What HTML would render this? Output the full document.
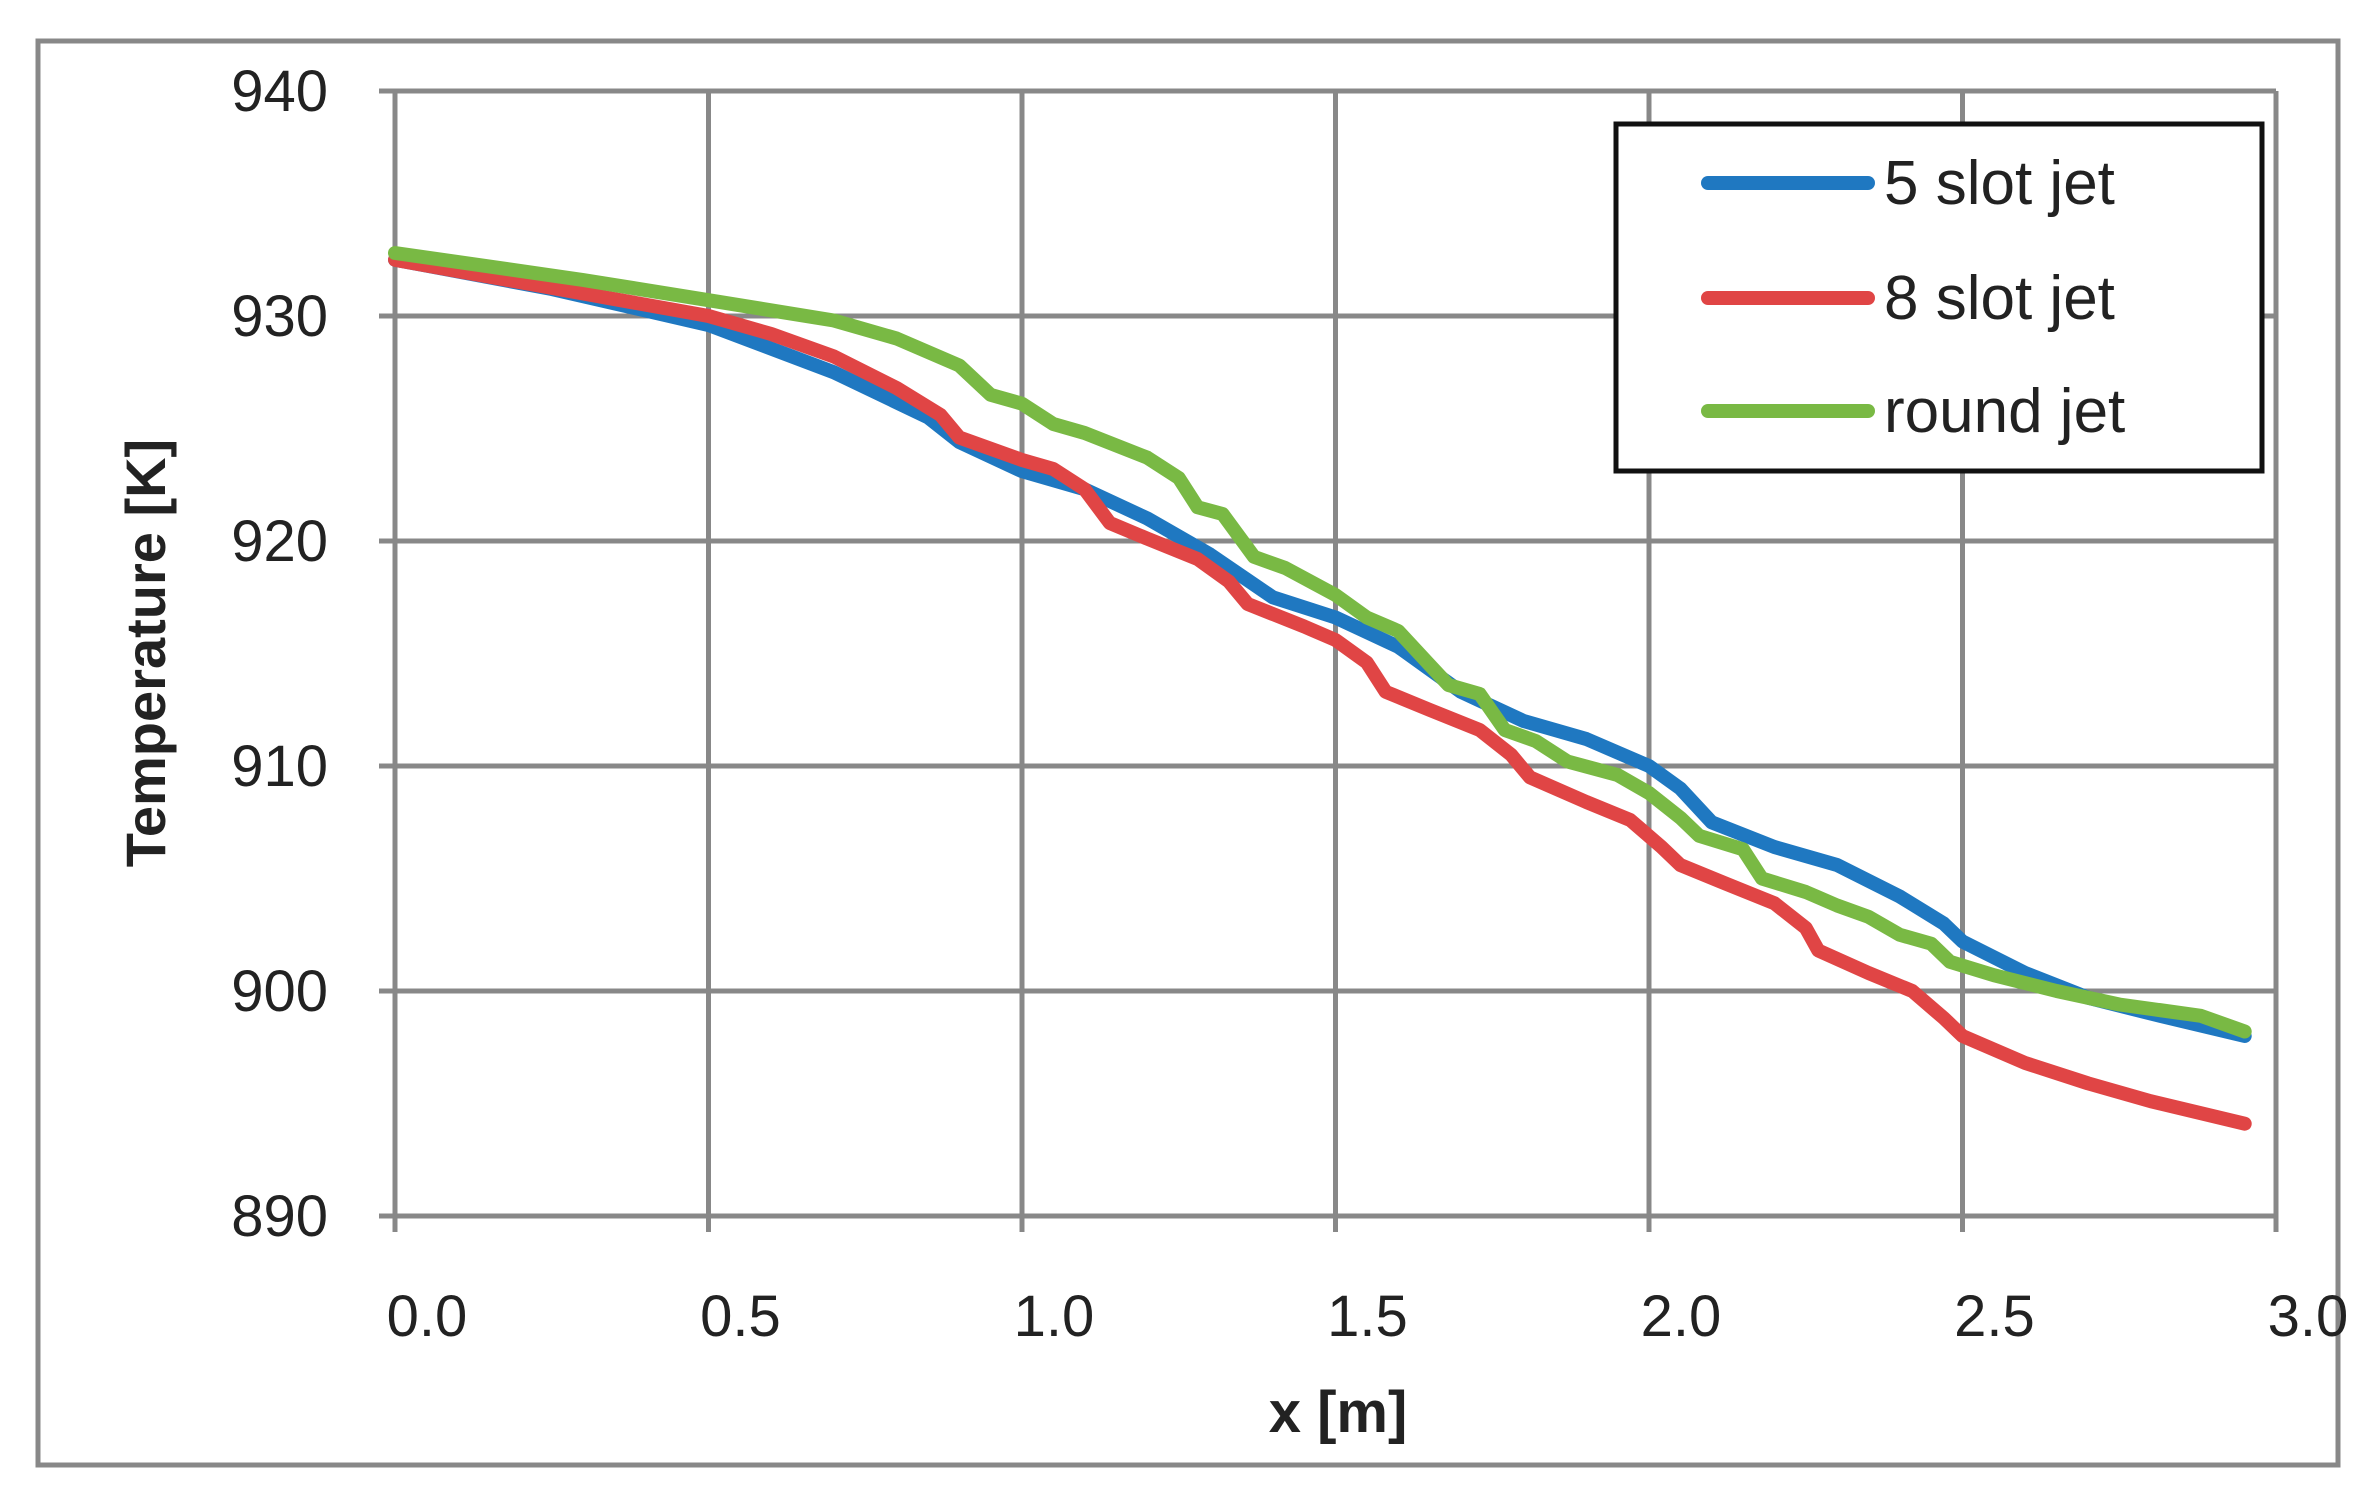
<!DOCTYPE html>
<html><head><meta charset="utf-8"><style>
html,body{margin:0;padding:0;background:#fff;width:2368px;height:1501px;overflow:hidden}
svg{display:block}
text{font-family:"Liberation Sans",sans-serif;fill:#222}
</style></head><body>
<svg id="s" width="2368" height="1501" xmlns="http://www.w3.org/2000/svg">
<rect x="38" y="41" width="2300" height="1424" fill="#fff" stroke="#888" stroke-width="5"/>
<g id="grid" stroke="#888" stroke-width="5"></g>
<g id="lab" font-size="58"></g>
<text x="1338" y="1432" font-size="58" font-weight="bold" text-anchor="middle">x [m]</text>
<text transform="translate(165,653) rotate(-90)" font-size="56" font-weight="bold" text-anchor="middle">Temperature [K]</text>
<g id="ser" fill="none" stroke-width="14" stroke-linejoin="round" stroke-linecap="round"></g>
<rect x="1616" y="124" width="646" height="347" fill="#fff" stroke="#111" stroke-width="5"/>
<line x1="1708" y1="183" x2="1868" y2="183" stroke="#1f78c1" stroke-width="14" stroke-linecap="round"/>
<line x1="1708" y1="298" x2="1868" y2="298" stroke="#e04545" stroke-width="14" stroke-linecap="round"/>
<line x1="1708" y1="411" x2="1868" y2="411" stroke="#79b944" stroke-width="14" stroke-linecap="round"/>
<text x="1884" y="204" font-size="62">5 slot jet</text>
<text x="1884" y="319" font-size="62">8 slot jet</text>
<text x="1884" y="432" font-size="62">round jet</text>
</svg>
<script>
var X=function(x){return 395+x*627},Y=function(t){return 91+(940-t)*22.5};
var ns="http://www.w3.org/2000/svg";
function el(p,n,a,t){var e=document.createElementNS(ns,n);for(var k in a)e.setAttribute(k,a[k]);if(t)e.textContent=t;p.appendChild(e);return e;}
var g=document.getElementById('grid'),l=document.getElementById('lab');
for(var i=0;i<=6;i++){var x=X(i*0.5);el(g,'line',{x1:x,y1:Y(940),x2:x,y2:Y(890)+16});el(l,'text',{x:x+32,y:1336,'text-anchor':'middle'},(i*0.5).toFixed(1));}
for(var t=890;t<=940;t+=10){var y=Y(t);el(g,'line',{x1:X(0)-16,y1:y,x2:X(3),y2:y});el(l,'text',{x:328,y:y+20,'text-anchor':'end'},t);}
var d={"#1f78c1":[[0,932.5],[0.25,931.2],[0.5,929.6],[0.7,927.5],[0.85,925.5],[0.9,924.4],[1.0,923.1],[1.1,922.3],[1.2,921],[1.3,919.4],[1.4,917.5],[1.5,916.6],[1.6,915.3],[1.7,913.3],[1.8,912],[1.9,911.2],[2.0,910],[2.05,909],[2.1,907.5],[2.2,906.4],[2.3,905.6],[2.4,904.2],[2.47,903],[2.5,902.2],[2.6,900.8],[2.7,899.7],[2.8,899],[2.95,898]],
"#e04545":[[0,932.5],[0.3,931],[0.5,930],[0.6,929.2],[0.7,928.2],[0.8,926.8],[0.87,925.6],[0.9,924.6],[1.0,923.6],[1.05,923.2],[1.1,922.3],[1.14,920.8],[1.2,920.1],[1.28,919.2],[1.33,918.2],[1.36,917.2],[1.45,916.2],[1.5,915.6],[1.55,914.6],[1.58,913.3],[1.65,912.5],[1.73,911.6],[1.78,910.5],[1.81,909.5],[1.9,908.4],[1.97,907.6],[2.02,906.4],[2.05,905.6],[2.12,904.8],[2.2,903.9],[2.25,902.8],[2.27,901.8],[2.35,900.8],[2.42,900],[2.47,898.8],[2.5,898],[2.6,896.8],[2.7,895.9],[2.8,895.1],[2.95,894.1]],
"#79b944":[[0,932.8],[0.3,931.6],[0.5,930.7],[0.7,929.8],[0.8,929],[0.9,927.8],[0.95,926.5],[1.0,926.1],[1.05,925.2],[1.1,924.8],[1.2,923.7],[1.25,922.8],[1.28,921.5],[1.32,921.2],[1.37,919.3],[1.42,918.8],[1.5,917.6],[1.55,916.6],[1.6,916],[1.65,914.5],[1.68,913.6],[1.73,913.2],[1.77,911.6],[1.82,911.1],[1.87,910.2],[1.95,909.6],[2.0,908.8],[2.05,907.7],[2.08,906.9],[2.15,906.3],[2.18,905],[2.25,904.4],[2.3,903.8],[2.35,903.3],[2.4,902.5],[2.45,902.1],[2.48,901.3],[2.55,900.7],[2.65,900],[2.75,899.4],[2.88,898.9],[2.95,898.2]]};
var s=document.getElementById('ser');
["#1f78c1","#e04545","#79b944"].forEach(function(c){el(s,'polyline',{stroke:c,points:d[c].map(function(p){return X(p[0]).toFixed(1)+','+Y(p[1]).toFixed(1)}).join(' ')});});
</script>
</body></html>
